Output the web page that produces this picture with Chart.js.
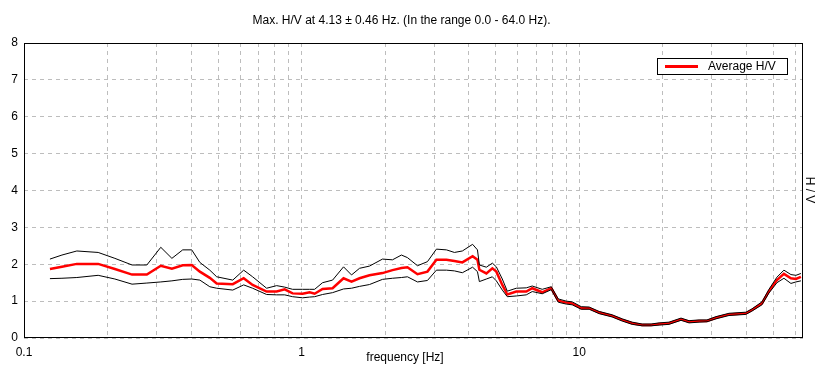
<!DOCTYPE html>
<html>
<head>
<meta charset="utf-8">
<script src="https://cdn.jsdelivr.net/npm/chart.js@4/dist/chart.umd.min.js"></script>
<style>
html,body{margin:0;padding:0;background:#fff;}
#wrap{width:826px;height:381px;position:relative;}
</style>
</head>
<body>
<div id="wrap"><canvas id="c" width="826" height="381"></canvas></div>
<script>
const titleText = "Max. H/V at 4.13 \u00B1 0.46 Hz. (In the range 0.0 - 64.0 Hz).";
const xTitle = "frequency [Hz]";
const yTitle = "H / V";
const legendLabel = "Average H/V";

const frequency = [0.124,0.137,0.155,0.185,0.2125,0.245,0.277,0.311,0.341,0.373,0.402,0.430,0.467,0.4945,0.565,0.6185,0.666,0.748,0.813,0.869,0.928,1.008,1.069,1.114,1.19,1.293,1.416,1.513,1.617,1.756,1.956,2.125,2.289,2.406,2.615,2.84,3.059,3.325,3.552,3.794,4.13,4.30,4.369,4.63,4.866,5.029,5.284,5.508,5.934,6.447,6.775,7.36,7.933,8.406,8.98,9.436,10.17,10.86,11.8,13.14,14.28,15.51,16.85,18.16,19.4,21.07,23.27,24.87,27.02,28.86,31.11,34.64,39.87,41.91,45.53,48.26,51.56,54.64,57.9,60.35,62.9];
const averageHV = [1.87,1.93,2.01,2.01,1.87,1.72,1.72,1.96,1.88,1.97,1.98,1.80,1.63,1.48,1.46,1.62,1.44,1.26,1.26,1.32,1.21,1.20,1.24,1.20,1.33,1.35,1.62,1.53,1.62,1.70,1.76,1.84,1.90,1.92,1.73,1.80,2.12,2.12,2.09,2.05,2.22,2.12,1.85,1.75,1.89,1.80,1.44,1.18,1.26,1.26,1.35,1.24,1.35,1.01,0.96,0.94,0.81,0.81,0.69,0.60,0.49,0.40,0.35,0.35,0.38,0.40,0.51,0.44,0.46,0.46,0.55,0.64,0.67,0.76,0.94,1.27,1.57,1.74,1.62,1.60,1.66];
const upperHV = [2.14,2.25,2.36,2.32,2.16,1.98,1.98,2.46,2.16,2.39,2.39,2.05,1.84,1.66,1.57,1.84,1.66,1.35,1.42,1.38,1.32,1.32,1.32,1.32,1.50,1.57,1.93,1.71,1.89,1.95,2.14,2.12,2.25,2.18,1.96,2.07,2.41,2.39,2.32,2.36,2.54,2.39,1.98,1.92,2.03,1.93,1.60,1.27,1.35,1.36,1.41,1.32,1.39,1.06,1.00,0.98,0.85,0.84,0.72,0.63,0.52,0.43,0.38,0.38,0.41,0.43,0.54,0.47,0.49,0.49,0.58,0.67,0.70,0.79,0.98,1.32,1.65,1.84,1.72,1.70,1.75];
const lowerHV = [1.61,1.62,1.64,1.70,1.60,1.46,1.49,1.52,1.55,1.59,1.60,1.57,1.39,1.35,1.30,1.44,1.35,1.18,1.17,1.17,1.12,1.09,1.11,1.12,1.18,1.23,1.33,1.35,1.40,1.45,1.59,1.62,1.64,1.66,1.52,1.56,1.84,1.84,1.82,1.77,1.92,1.80,1.53,1.60,1.66,1.55,1.30,1.12,1.14,1.17,1.26,1.20,1.31,0.97,0.92,0.90,0.78,0.78,0.66,0.57,0.46,0.37,0.33,0.33,0.35,0.37,0.48,0.41,0.43,0.44,0.52,0.61,0.64,0.73,0.90,1.22,1.50,1.62,1.48,1.52,1.55];
const xGridValues = [0.1,0.2,0.3,0.4,0.5,0.6,0.7,0.8,0.9,1,2,3,4,5,6,7,8,9,10,20,30,40,50,60];
const xLabelValues = [0.1,1,10];
const yTicks = [0,1,2,3,4,5,6,7,8];

const FONT = "'Liberation Sans', Arial, sans-serif";

function pts(ys){ return frequency.map((f,i)=>({x:f,y:ys[i]})); }

const extras = {
  id:'extras',
  afterDraw(chart){
    const ctx = chart.ctx, a = chart.chartArea;
    ctx.save();
    ctx.strokeStyle = '#000'; ctx.lineWidth = 1; ctx.setLineDash([]);
    ctx.strokeRect(Math.round(a.left)+0.5, Math.round(a.top)+0.5, Math.round(a.right-a.left)-1, Math.round(a.bottom-a.top)-1);
    const lx=657, ly=58, lw=130, lh=16;
    ctx.fillStyle='#fff'; ctx.fillRect(lx,ly,lw,lh);
    ctx.strokeStyle='#000'; ctx.strokeRect(lx+0.5,ly+0.5,lw,lh);
    ctx.strokeStyle='#ff0000'; ctx.lineWidth=3;
    ctx.beginPath(); ctx.moveTo(665,66.5); ctx.lineTo(698,66.5); ctx.stroke();
    ctx.fillStyle='#000'; ctx.font='12px '+FONT; ctx.textBaseline='middle'; ctx.textAlign='left';
    ctx.fillText(legendLabel,708,66.5);
    ctx.textAlign='center';
    ctx.fillText(xTitle,405,358);
    ctx.translate(809,190); ctx.rotate(Math.PI/2);
    ctx.fillText(yTitle,0,0);
    ctx.restore();
  }
};

new Chart(document.getElementById('c'), {
  type:'line',
  data:{
    datasets:[
      {label:'upper', data:pts(upperHV), borderColor:'#000', borderWidth:1, pointRadius:0, tension:0, fill:false},
      {label:'lower', data:pts(lowerHV), borderColor:'#000', borderWidth:1, pointRadius:0, tension:0, fill:false},
      {label:legendLabel, data:pts(averageHV), borderColor:'#ff0000', borderWidth:2.5, pointRadius:0, tension:0, fill:false}
    ]
  },
  options:{
    responsive:false, animation:false,
    layout:{padding:{left:0,right:23,top:0,bottom:0}},
    plugins:{
      legend:{display:false},
      tooltip:{enabled:false},
      title:{display:true, text:titleText, color:'#000', font:{family:FONT,size:12,weight:'normal'}, padding:{top:13,bottom:15.6}}
    },
    scales:{
      x:{
        type:'logarithmic', min:0.1, max:64,
        afterBuildTicks(s){ s.ticks = xGridValues.map(v=>({value:v})); },
        afterFit(s){ s.height = 43; },
        grid:{color:'#bdbdbd', drawTicks:false},
        border:{display:false, dash:[4,4]},
        ticks:{autoSkip:false, maxRotation:0, padding:7, color:'#000', font:{family:FONT,size:12},
          callback(v){ return xLabelValues.some(t=>Math.abs(t-v)<1e-9) ? String(v) : ''; }}
      },
      y:{
        type:'linear', min:0, max:8,
        afterBuildTicks(s){ s.ticks = yTicks.map(v=>({value:v})); },
        afterFit(s){ s.width = 24; },
        grid:{color:'#bdbdbd', drawTicks:false},
        border:{display:false, dash:[4,4]},
        ticks:{padding:6, color:'#000', font:{family:FONT,size:12}}
      }
    }
  },
  plugins:[extras]
});
</script>
</body>
</html>
